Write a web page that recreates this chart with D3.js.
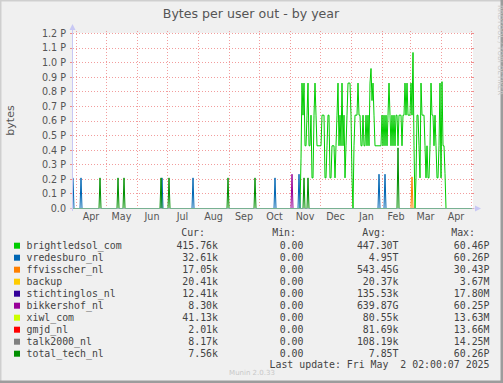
<!DOCTYPE html>
<html>
<head>
<meta charset="utf-8">
<script src="https://cdn.jsdelivr.net/npm/d3@7"></script>
<style>
  html, body { margin: 0; padding: 0; background: #f0f0f0; }
  svg { display: block; }
  text { font-family: "DejaVu Sans", sans-serif; }
  .mono { font-family: "DejaVu Sans Mono", monospace; }
</style>
</head>
<body>
<div id="chart"></div>
<script>
// legend table
const seriesNames = ["brightledsol_com", "vredesburo_nl", "ffvisscher_nl", "backup", "stichtinglos_nl",
  "bikkershof_nl", "xiwl_com", "gmjd_nl", "talk2000_nl", "total_tech_nl"];
const seriesColors = ["#00cc00", "#0066b3", "#ff8000", "#ffcc00", "#330099",
  "#990099", "#ccff00", "#ff0000", "#808080", "#008f00"];
const curValues = ["415.76k", "32.61k", "17.05k", "20.41k", "12.41k", "8.30k", "41.13k", "2.01k", "8.17k", "7.56k"];
const minValues = ["0.00", "0.00", "0.00", "0.00", "0.00", "0.00", "0.00", "0.00", "0.00", "0.00"];
const avgValues = ["447.30T", "4.95T", "543.45G", "20.37k", "135.53k", "639.87G", "80.55k", "81.69k", "108.19k", "7.85T"];
const maxValues = ["60.46P", "60.26P", "30.43P", "3.67M", "17.80M", "60.25P", "13.63M", "13.66M", "14.25M", "60.26P"];

// y axis (values in P)
const yTicks = [0, 0.1, 0.2, 0.3, 0.4, 0.5, 0.6, 0.7, 0.8, 0.9, 1.0, 1.1, 1.2];
const yTickLabels = ["0.0", "0.1 P", "0.2 P", "0.3 P", "0.4 P", "0.5 P", "0.6 P", "0.7 P", "0.8 P", "0.9 P", "1.0 P", "1.1 P", "1.2 P"];

// single-day spikes [date, value in P]; everything else is 0
const vredesburoSpikes = [["2024-03-29", 0.21], ["2024-04-06", 0.21], ["2024-06-26", 0.21], ["2024-07-27", 0.21],
  ["2024-10-17", 0.21], ["2024-11-10", 0.235], ["2025-01-29", 0.235], ["2025-02-04", 0.235]];
const ffvisscherSpikes = [["2025-03-03", 0.217]];
const bikkershofSpikes = [["2024-11-03", 0.235]];
const totalTechSpikes = [["2024-04-25", 0.21], ["2024-05-13", 0.21], ["2024-05-19", 0.21], ["2024-06-25", 0.21],
  ["2024-07-03", 0.21], ["2024-08-31", 0.21], ["2024-09-27", 0.21], ["2024-11-15", 0.21], ["2024-11-19", 0.21],
  ["2025-02-17", 0.416]];

// brightledsol daily values (P) from its start date
const brightledsolStart = "2024-11-12";
const brightledsolValues = [
  0.34, 0.86, 0.64, 0.86, 0.43, 0.43, 0.64, 0.86, 0.43, 0.43, 0.64, 0.21, 0.21, 0.64, 0.86, 0.64, 0.43, 0.43, 0.43, 0.43,
  0.43, 0.64, 0.64, 0.64, 0.21, 0.21, 0.43, 0.64, 0.64, 0.21, 0.21, 0.43, 0.43, 0.43, 0.21, 0.43, 0.64, 0.86, 0.43, 0.64,
  0.43, 0.86, 0.43, 0.64, 0.21, 0.43, 0.64, 0.86, 0.86, 0.86, 0.64, 0.21, 0.00, 0.43, 0.64, 0.64, 0.64, 0.86, 0.64, 0.64,
  0.43, 0.43, 0.64, 0.43, 0.43, 0.64, 0.43, 0.64, 0.43, 0.86, 0.96, 0.74, 0.86, 0.64, 0.43, 0.43, 0.43, 0.43, 0.43, 0.43,
  0.43, 0.64, 0.43, 0.64, 0.43, 0.64, 0.43, 0.64, 0.86, 0.64, 0.43, 0.64, 0.43, 0.64, 0.43, 0.64, 0.64, 0.43, 0.64, 0.64,
  0.64, 0.43, 0.64, 0.64, 0.86, 0.64, 0.86, 0.64, 0.64, 0.64, 0.86, 0.64, 1.07, 0.43, 0.00, 0.21, 0.64, 0.64, 0.43, 0.21,
  0.86, 0.64, 0.64, 0.64, 0.43, 0.21, 0.43, 0.21, 0.21, 0.43, 0.86, 0.64, 0.64, 0.43, 0.64, 0.43, 0.21, 0.21, 0.43, 0.86,
  0.21, 0.87, 0.43, 0.43, 0.24
];

const W = 503, H = 383;
const plot = { left: 73, right: 473, top: 33, bottom: 208 };
const parseDay = d3.timeParse("%Y-%m-%d");
const startDay = new Date(2024, 2, 29);
const endDay = new Date(2025, 4, 3);
const lastDay = new Date(2025, 4, 2);

const x = d3.scaleTime().domain([startDay, endDay]).range([plot.left, plot.right]);
const y = d3.scaleLinear().domain([0, 1.2]).range([plot.bottom + 0.5, plot.top + 0.5]);

const days = d3.timeDay.range(startDay, d3.timeDay.offset(lastDay, 1));

function fromSpikes(spikes) {
  const m = new Map(spikes.map(s => [+parseDay(s[0]), s[1]]));
  return days.map(d => ({ date: d, value: m.get(+d) || 0 }));
}
function fromDaily(start, values) {
  const t0 = parseDay(start);
  return days.map(d => {
    const i = d3.timeDay.count(t0, d);
    return { date: d, value: (i >= 0 && i < values.length) ? values[i] : 0 };
  });
}

const seriesData = [
  fromDaily(brightledsolStart, brightledsolValues),
  fromSpikes(vredesburoSpikes),
  fromSpikes(ffvisscherSpikes),
  fromSpikes([]),
  fromSpikes([]),
  fromSpikes(bikkershofSpikes),
  fromSpikes([]),
  fromSpikes([]),
  fromSpikes([]),
  fromSpikes(totalTechSpikes)
];

const svg = d3.select("#chart").append("svg")
  .attr("width", W).attr("height", H);

// frame
svg.append("rect").attr("width", W).attr("height", H).attr("fill", "#f0f0f0");
svg.append("path").attr("d", `M0,${H - 1}V0H${W - 1}`).attr("fill", "none")
  .attr("stroke", "#cfcfcf").attr("stroke-width", 3);
svg.append("path").attr("d", `M0,${H - 1}H${W - 1}V0`).attr("fill", "none")
  .attr("stroke", "#9c9c9c").attr("stroke-width", 3);

// plot background
svg.append("rect")
  .attr("x", plot.left).attr("y", plot.top)
  .attr("width", plot.right - plot.left).attr("height", plot.bottom - plot.top)
  .attr("fill", "#ffffff");

// title
svg.append("text").attr("x", 251).attr("y", 18)
  .attr("text-anchor", "middle").attr("font-size", "12.6px").attr("fill", "#555")
  .text("Bytes per user out - by year");

svg.append("text")
  .attr("transform", "translate(498,5) rotate(90)")
  .attr("font-size", "7px").attr("fill", "#c8c8c8")
  .text("RRDTOOL / TOBI OETIKER");

svg.append("text")
  .attr("transform", `translate(14,${(plot.top + plot.bottom) / 2}) rotate(-90)`)
  .attr("text-anchor", "middle").attr("font-size", "11px").attr("fill", "#555")
  .text("bytes");

// grid
const gridColor = "#f08c8c";
const grid = svg.append("g").attr("stroke", gridColor).attr("stroke-dasharray", "1,2")
  .attr("shape-rendering", "crispEdges").attr("stroke-opacity", 0.85);
yTicks.forEach(t => {
  const yy = Math.round(y(t) - 0.5) + 0.5;
  grid.append("line").attr("x1", plot.left).attr("x2", plot.right).attr("y1", yy).attr("y2", yy);
});
const monthStarts = d3.timeMonth.range(d3.timeMonth.ceil(startDay), endDay);
monthStarts.forEach(m => {
  const xx = Math.round(x(m)) + 0.5;
  grid.append("line").attr("x1", xx).attr("x2", xx).attr("y1", plot.top - 2).attr("y2", plot.bottom + 2);
});
// tick marks
const ticks = svg.append("g").attr("stroke", gridColor).attr("shape-rendering", "crispEdges");
yTicks.forEach(t => {
  const yy = Math.round(y(t) - 0.5) + 0.5;
  ticks.append("line").attr("x1", plot.left - 3).attr("x2", plot.left).attr("y1", yy).attr("y2", yy);
  ticks.append("line").attr("x1", plot.right - 2).attr("x2", plot.right + 1).attr("y1", yy).attr("y2", yy);
});

// y labels
svg.append("g").selectAll("text").data(yTicks).enter().append("text")
  .attr("x", 66).attr("y", d => y(d)).attr("dy", "0.35em")
  .attr("text-anchor", "end").attr("font-size", "9.6px").attr("fill", "#555")
  .text((d, i) => yTickLabels[i]);

// x labels, centred in each month
const monthLabels = d3.timeMonth.range(d3.timeMonth.floor(startDay), endDay)
  .map(m => ({ date: m, mid: new Date((+m + +d3.timeMonth.offset(m, 1)) / 2) }))
  .filter(d => x(d.mid) > plot.left + 5 && x(d.mid) < plot.right - 5);
svg.append("g").selectAll("text").data(monthLabels).enter().append("text")
  .attr("x", d => x(d.mid)).attr("y", 217).attr("dy", "0.35em")
  .attr("text-anchor", "middle").attr("font-size", "9.6px").attr("fill", "#555")
  .text(d => d3.timeFormat("%b")(d.date));

// series lines
const line = d3.line().x(d => x(d.date)).y(d => y(d.value));
svg.append("g").selectAll("path").data(seriesData).enter().append("path")
  .attr("d", line)
  .attr("fill", "none")
  .attr("stroke", (d, i) => seriesColors[i])
  .attr("stroke-width", 1);

// axes with arrows
const axisColor = "#c8c8f4";
svg.append("line").attr("x1", plot.left - 0.5).attr("x2", plot.left - 0.5)
  .attr("y1", plot.bottom + 3).attr("y2", plot.top - 6)
  .attr("stroke", axisColor);
svg.append("path").attr("d", `M${plot.left - 3.5},${plot.top - 3}L${plot.left - 0.5},${plot.top - 9}L${plot.left + 2.5},${plot.top - 3}Z`)
  .attr("fill", axisColor);
svg.append("line").attr("x1", plot.left - 3).attr("x2", plot.right + 4)
  .attr("y1", plot.bottom + 0.5).attr("y2", plot.bottom + 0.5)
  .attr("stroke", axisColor).attr("stroke-opacity", 0.6);
svg.append("path").attr("d", `M${plot.right + 2},${plot.bottom - 2.5}L${plot.right + 8},${plot.bottom + 0.5}L${plot.right + 2},${plot.bottom + 3.5}Z`)
  .attr("fill", axisColor);

// legend
const legend = svg.append("g").attr("class", "mono").attr("font-size", "9.9px").attr("fill", "#444");
const cols = [{ head: "Cur:", hx: 205, vx: 218, vals: curValues },
  { head: "Min:", hx: 296, vx: 303.5, vals: minValues },
  { head: "Avg:", hx: 386, vx: 398.5, vals: avgValues },
  { head: "Max:", hx: 475, vx: 489.5, vals: maxValues }];
cols.forEach(c => {
  legend.append("text").attr("class", "mono").attr("x", c.hx).attr("y", 232.7).attr("dy", "0.35em")
    .attr("text-anchor", "end").text(c.head);
});
seriesNames.forEach((name, i) => {
  const cy = 245.7 + i * 12;
  legend.append("rect").attr("x", 14).attr("y", cy - 3).attr("width", 6).attr("height", 6)
    .attr("fill", seriesColors[i]);
  legend.append("text").attr("class", "mono").attr("x", 26.5).attr("y", cy).attr("dy", "0.35em").text(name);
  cols.forEach(c => {
    legend.append("text").attr("class", "mono").attr("x", c.vx).attr("y", cy).attr("dy", "0.35em")
      .attr("text-anchor", "end").text(c.vals[i]);
  });
});
legend.append("text").attr("class", "mono").attr("x", 489.5).attr("y", 365).attr("dy", "0.35em")
  .attr("text-anchor", "end").style("white-space", "pre")
  .text("Last update: Fri May  2 02:00:07 2025");

svg.append("text").attr("x", 252).attr("y", 372.5).attr("dy", "0.35em")
  .attr("text-anchor", "middle").attr("font-size", "7px").attr("fill", "#c8c8c8")
  .text("Munin 2.0.33");
</script>
</body>
</html>
